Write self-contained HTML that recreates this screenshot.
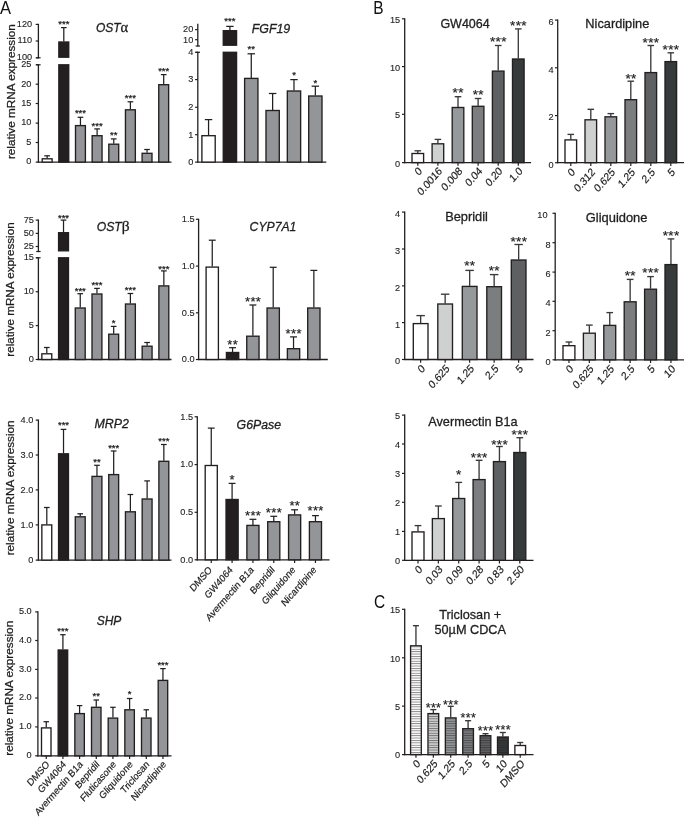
<!DOCTYPE html>
<html><head><meta charset="utf-8"><title>Figure</title>
<style>
html,body{margin:0;padding:0;background:#fff;}
svg{display:block;font-family:"Liberation Sans",sans-serif;}
text{stroke:#1f1f1f;stroke-width:0.25px;}
.tk{stroke-width:0.12px;} .pl{stroke-width:0;} .ti{stroke-width:0.3px;}
</style></head>
<body>
<svg width="685" height="817" viewBox="0 0 685 817">
<defs>
<pattern id="hs" width="4" height="2.4" patternUnits="userSpaceOnUse"><rect x="0" y="0.9" width="4" height="0.8" fill="#231f20" fill-opacity="0.62"/></pattern>
</defs>
<rect width="685" height="817" fill="#fff"/>
<text transform="translate(0.0,13.6) scale(0.92,1)" font-size="18" fill="#111" class="pl">A</text>
<text transform="translate(373.2,13.8) scale(0.86,1)" font-size="18" fill="#111" class="pl">B</text>
<text transform="translate(374.0,608.2) scale(0.86,1)" font-size="18" fill="#111" class="pl">C</text>
<line x1="38.40" y1="23.80" x2="38.40" y2="58.40" stroke="#231f20" stroke-width="1.3"/>
<line x1="35.70" y1="24.40" x2="38.40" y2="24.40" stroke="#231f20" stroke-width="1.2"/>
<text x="32.20" y="26.70" font-size="9.2" text-anchor="end" fill="#262626"  class="tk">120</text>
<line x1="35.70" y1="41.00" x2="38.40" y2="41.00" stroke="#231f20" stroke-width="1.2"/>
<text x="32.20" y="43.30" font-size="9.2" text-anchor="end" fill="#262626"  class="tk">110</text>
<line x1="35.70" y1="57.80" x2="38.40" y2="57.80" stroke="#231f20" stroke-width="1.2"/>
<text x="32.20" y="60.10" font-size="9.2" text-anchor="end" fill="#262626"  class="tk">100</text>
<line x1="36.20" y1="57.80" x2="40.60" y2="57.80" stroke="#231f20" stroke-width="1.2"/>
<line x1="38.40" y1="64.20" x2="38.40" y2="162.70" stroke="#231f20" stroke-width="1.3"/>
<line x1="35.70" y1="64.80" x2="38.40" y2="64.80" stroke="#231f20" stroke-width="1.2"/>
<text x="31.40" y="67.10" font-size="9.2" text-anchor="end" fill="#262626"  class="tk">25</text>
<line x1="35.70" y1="84.20" x2="38.40" y2="84.20" stroke="#231f20" stroke-width="1.2"/>
<text x="31.40" y="86.50" font-size="9.2" text-anchor="end" fill="#262626"  class="tk">20</text>
<line x1="35.70" y1="103.50" x2="38.40" y2="103.50" stroke="#231f20" stroke-width="1.2"/>
<text x="31.40" y="105.80" font-size="9.2" text-anchor="end" fill="#262626"  class="tk">15</text>
<line x1="35.70" y1="123.10" x2="38.40" y2="123.10" stroke="#231f20" stroke-width="1.2"/>
<text x="31.40" y="125.40" font-size="9.2" text-anchor="end" fill="#262626"  class="tk">10</text>
<line x1="35.70" y1="142.50" x2="38.40" y2="142.50" stroke="#231f20" stroke-width="1.2"/>
<text x="31.40" y="144.80" font-size="9.2" text-anchor="end" fill="#262626"  class="tk">5</text>
<line x1="35.70" y1="162.10" x2="38.40" y2="162.10" stroke="#231f20" stroke-width="1.2"/>
<text x="31.40" y="164.40" font-size="9.2" text-anchor="end" fill="#262626"  class="tk">0</text>
<line x1="36.20" y1="64.80" x2="40.60" y2="64.80" stroke="#231f20" stroke-width="1.2"/>
<line x1="37.80" y1="162.10" x2="171.50" y2="162.10" stroke="#231f20" stroke-width="1.3"/>
<line x1="47.15" y1="155.80" x2="47.15" y2="158.30" stroke="#231f20" stroke-width="1.25"/>
<line x1="44.32" y1="155.80" x2="49.98" y2="155.80" stroke="#231f20" stroke-width="1.25"/>
<rect x="42.20" y="158.80" width="9.90" height="3.30" fill="#fff" stroke="#231f20" stroke-width="1.35"/>
<line x1="63.80" y1="27.60" x2="63.80" y2="41.50" stroke="#231f20" stroke-width="1.25"/>
<line x1="60.97" y1="27.60" x2="66.63" y2="27.60" stroke="#231f20" stroke-width="1.25"/>
<rect x="58.85" y="42.00" width="9.90" height="15.20" fill="#231f20" stroke="#231f20" stroke-width="1.35"/>
<rect x="58.85" y="64.80" width="9.90" height="97.30" fill="#231f20" stroke="#231f20" stroke-width="1.35"/>
<text x="63.80" y="26.50" font-size="9.5" text-anchor="middle" fill="#1c1c1c"  style="stroke-width:0.25px">***</text>
<line x1="80.45" y1="117.30" x2="80.45" y2="125.10" stroke="#231f20" stroke-width="1.25"/>
<line x1="77.62" y1="117.30" x2="83.28" y2="117.30" stroke="#231f20" stroke-width="1.25"/>
<rect x="75.50" y="125.60" width="9.90" height="36.50" fill="#939598" stroke="#231f20" stroke-width="1.35"/>
<text x="80.45" y="116.14" font-size="9.5" text-anchor="middle" fill="#1c1c1c"  style="stroke-width:0.25px">***</text>
<line x1="97.10" y1="128.90" x2="97.10" y2="135.20" stroke="#231f20" stroke-width="1.25"/>
<line x1="94.27" y1="128.90" x2="99.93" y2="128.90" stroke="#231f20" stroke-width="1.25"/>
<rect x="92.15" y="135.70" width="9.90" height="26.40" fill="#939598" stroke="#231f20" stroke-width="1.35"/>
<text x="97.10" y="128.70" font-size="9.5" text-anchor="middle" fill="#1c1c1c"  style="stroke-width:0.25px">***</text>
<line x1="113.75" y1="138.90" x2="113.75" y2="143.70" stroke="#231f20" stroke-width="1.25"/>
<line x1="110.92" y1="138.90" x2="116.58" y2="138.90" stroke="#231f20" stroke-width="1.25"/>
<rect x="108.80" y="144.20" width="9.90" height="17.90" fill="#939598" stroke="#231f20" stroke-width="1.35"/>
<text x="113.75" y="137.74" font-size="9.5" text-anchor="middle" fill="#1c1c1c"  style="stroke-width:0.25px">**</text>
<line x1="130.40" y1="101.80" x2="130.40" y2="109.30" stroke="#231f20" stroke-width="1.25"/>
<line x1="127.57" y1="101.80" x2="133.23" y2="101.80" stroke="#231f20" stroke-width="1.25"/>
<rect x="125.45" y="109.80" width="9.90" height="52.30" fill="#939598" stroke="#231f20" stroke-width="1.35"/>
<text x="130.40" y="101.33" font-size="9.5" text-anchor="middle" fill="#1c1c1c"  style="stroke-width:0.25px">***</text>
<line x1="147.05" y1="149.50" x2="147.05" y2="152.80" stroke="#231f20" stroke-width="1.25"/>
<line x1="144.22" y1="149.50" x2="149.88" y2="149.50" stroke="#231f20" stroke-width="1.25"/>
<rect x="142.10" y="153.30" width="9.90" height="8.80" fill="#939598" stroke="#231f20" stroke-width="1.35"/>
<line x1="163.70" y1="74.60" x2="163.70" y2="84.20" stroke="#231f20" stroke-width="1.25"/>
<line x1="160.87" y1="74.60" x2="166.53" y2="74.60" stroke="#231f20" stroke-width="1.25"/>
<rect x="158.75" y="84.70" width="9.90" height="77.40" fill="#939598" stroke="#231f20" stroke-width="1.35"/>
<text x="163.70" y="74.21" font-size="9.5" text-anchor="middle" fill="#1c1c1c"  style="stroke-width:0.25px">***</text>
<text x="95.90" y="31.50" font-size="12" text-anchor="start" fill="#1f1f1f" font-style="italic" class="ti">OST<tspan font-style="normal" font-family="Liberation Serif, DejaVu Serif, serif" font-size="14.5">α</tspan></text>
<text transform="translate(14.70,91.60) rotate(-90) scale(1.14,1)" font-size="10.3" text-anchor="middle" fill="#1a1a1a">relative mRNA expression</text>
<line x1="197.80" y1="23.80" x2="197.80" y2="46.60" stroke="#231f20" stroke-width="1.3"/>
<line x1="195.10" y1="29.60" x2="197.80" y2="29.60" stroke="#231f20" stroke-width="1.2"/>
<text x="193.30" y="32.40" font-size="9.2" text-anchor="end" fill="#262626"  class="tk">20</text>
<line x1="195.10" y1="39.70" x2="197.80" y2="39.70" stroke="#231f20" stroke-width="1.2"/>
<text x="193.30" y="42.50" font-size="9.2" text-anchor="end" fill="#262626"  class="tk">10</text>
<line x1="195.60" y1="46.00" x2="200.00" y2="46.00" stroke="#231f20" stroke-width="1.2"/>
<line x1="197.80" y1="51.70" x2="197.80" y2="162.70" stroke="#231f20" stroke-width="1.3"/>
<line x1="195.10" y1="52.30" x2="197.80" y2="52.30" stroke="#231f20" stroke-width="1.2"/>
<text x="193.30" y="55.10" font-size="9.2" text-anchor="end" fill="#262626"  class="tk">4</text>
<line x1="195.10" y1="79.60" x2="197.80" y2="79.60" stroke="#231f20" stroke-width="1.2"/>
<text x="193.30" y="82.40" font-size="9.2" text-anchor="end" fill="#262626"  class="tk">3</text>
<line x1="195.10" y1="107.30" x2="197.80" y2="107.30" stroke="#231f20" stroke-width="1.2"/>
<text x="193.30" y="110.10" font-size="9.2" text-anchor="end" fill="#262626"  class="tk">2</text>
<line x1="195.10" y1="134.70" x2="197.80" y2="134.70" stroke="#231f20" stroke-width="1.2"/>
<text x="193.30" y="137.50" font-size="9.2" text-anchor="end" fill="#262626"  class="tk">1</text>
<line x1="195.10" y1="162.10" x2="197.80" y2="162.10" stroke="#231f20" stroke-width="1.2"/>
<text x="193.30" y="164.90" font-size="9.2" text-anchor="end" fill="#262626"  class="tk">0</text>
<line x1="195.60" y1="52.30" x2="200.00" y2="52.30" stroke="#231f20" stroke-width="1.2"/>
<line x1="197.20" y1="162.10" x2="326.30" y2="162.10" stroke="#231f20" stroke-width="1.3"/>
<line x1="208.55" y1="119.60" x2="208.55" y2="135.20" stroke="#231f20" stroke-width="1.25"/>
<line x1="204.83" y1="119.60" x2="212.27" y2="119.60" stroke="#231f20" stroke-width="1.25"/>
<rect x="201.90" y="135.70" width="13.30" height="26.40" fill="#fff" stroke="#231f20" stroke-width="1.35"/>
<line x1="229.91" y1="26.40" x2="229.91" y2="30.20" stroke="#231f20" stroke-width="1.25"/>
<line x1="226.19" y1="26.40" x2="233.63" y2="26.40" stroke="#231f20" stroke-width="1.25"/>
<rect x="223.26" y="30.70" width="13.30" height="14.50" fill="#231f20" stroke="#231f20" stroke-width="1.35"/>
<rect x="223.26" y="52.30" width="13.30" height="109.80" fill="#231f20" stroke="#231f20" stroke-width="1.35"/>
<text x="229.91" y="23.99" font-size="9.5" text-anchor="middle" fill="#1c1c1c"  style="stroke-width:0.25px">***</text>
<line x1="251.27" y1="53.80" x2="251.27" y2="77.90" stroke="#231f20" stroke-width="1.25"/>
<line x1="247.55" y1="53.80" x2="254.99" y2="53.80" stroke="#231f20" stroke-width="1.25"/>
<rect x="244.62" y="78.40" width="13.30" height="83.70" fill="#939598" stroke="#231f20" stroke-width="1.35"/>
<text x="251.27" y="52.11" font-size="9.5" text-anchor="middle" fill="#1c1c1c"  style="stroke-width:0.25px">**</text>
<line x1="272.63" y1="93.50" x2="272.63" y2="110.00" stroke="#231f20" stroke-width="1.25"/>
<line x1="268.91" y1="93.50" x2="276.35" y2="93.50" stroke="#231f20" stroke-width="1.25"/>
<rect x="265.98" y="110.50" width="13.30" height="51.60" fill="#939598" stroke="#231f20" stroke-width="1.35"/>
<line x1="293.99" y1="79.60" x2="293.99" y2="90.50" stroke="#231f20" stroke-width="1.25"/>
<line x1="290.27" y1="79.60" x2="297.71" y2="79.60" stroke="#231f20" stroke-width="1.25"/>
<rect x="287.34" y="91.00" width="13.30" height="71.10" fill="#939598" stroke="#231f20" stroke-width="1.35"/>
<text x="293.99" y="78.48" font-size="9.5" text-anchor="middle" fill="#1c1c1c"  style="stroke-width:0.25px">*</text>
<line x1="315.35" y1="86.20" x2="315.35" y2="95.50" stroke="#231f20" stroke-width="1.25"/>
<line x1="311.63" y1="86.20" x2="319.07" y2="86.20" stroke="#231f20" stroke-width="1.25"/>
<rect x="308.70" y="96.00" width="13.30" height="66.10" fill="#939598" stroke="#231f20" stroke-width="1.35"/>
<text x="315.35" y="85.51" font-size="9.5" text-anchor="middle" fill="#1c1c1c"  style="stroke-width:0.25px">*</text>
<text x="251.70" y="33.20" font-size="12.4" text-anchor="start" fill="#1f1f1f" font-style="italic" class="ti">FGF19</text>
<line x1="38.40" y1="219.50" x2="38.40" y2="252.10" stroke="#231f20" stroke-width="1.3"/>
<line x1="35.70" y1="220.10" x2="38.40" y2="220.10" stroke="#231f20" stroke-width="1.2"/>
<text x="33.90" y="222.60" font-size="9.2" text-anchor="end" fill="#262626"  class="tk">75</text>
<line x1="35.70" y1="233.40" x2="38.40" y2="233.40" stroke="#231f20" stroke-width="1.2"/>
<text x="33.90" y="235.90" font-size="9.2" text-anchor="end" fill="#262626"  class="tk">50</text>
<line x1="35.70" y1="246.50" x2="38.40" y2="246.50" stroke="#231f20" stroke-width="1.2"/>
<text x="33.90" y="249.00" font-size="9.2" text-anchor="end" fill="#262626"  class="tk">25</text>
<line x1="36.20" y1="251.50" x2="40.60" y2="251.50" stroke="#231f20" stroke-width="1.2"/>
<line x1="38.40" y1="257.20" x2="38.40" y2="360.10" stroke="#231f20" stroke-width="1.3"/>
<line x1="35.70" y1="257.80" x2="38.40" y2="257.80" stroke="#231f20" stroke-width="1.2"/>
<text x="33.90" y="260.30" font-size="9.2" text-anchor="end" fill="#262626"  class="tk">15</text>
<line x1="35.70" y1="291.70" x2="38.40" y2="291.70" stroke="#231f20" stroke-width="1.2"/>
<text x="33.90" y="294.20" font-size="9.2" text-anchor="end" fill="#262626"  class="tk">10</text>
<line x1="35.70" y1="325.60" x2="38.40" y2="325.60" stroke="#231f20" stroke-width="1.2"/>
<text x="33.90" y="328.10" font-size="9.2" text-anchor="end" fill="#262626"  class="tk">5</text>
<line x1="35.70" y1="359.50" x2="38.40" y2="359.50" stroke="#231f20" stroke-width="1.2"/>
<text x="33.90" y="362.00" font-size="9.2" text-anchor="end" fill="#262626"  class="tk">0</text>
<line x1="36.20" y1="257.80" x2="40.60" y2="257.80" stroke="#231f20" stroke-width="1.2"/>
<line x1="37.80" y1="359.50" x2="171.50" y2="359.50" stroke="#231f20" stroke-width="1.3"/>
<line x1="46.80" y1="347.50" x2="46.80" y2="353.30" stroke="#231f20" stroke-width="1.25"/>
<line x1="43.97" y1="347.50" x2="49.63" y2="347.50" stroke="#231f20" stroke-width="1.25"/>
<rect x="41.85" y="353.80" width="9.90" height="5.70" fill="#fff" stroke="#231f20" stroke-width="1.35"/>
<line x1="63.52" y1="220.10" x2="63.52" y2="232.20" stroke="#231f20" stroke-width="1.25"/>
<line x1="60.69" y1="220.10" x2="66.35" y2="220.10" stroke="#231f20" stroke-width="1.25"/>
<rect x="58.57" y="232.70" width="9.90" height="18.10" fill="#231f20" stroke="#231f20" stroke-width="1.35"/>
<rect x="58.57" y="257.80" width="9.90" height="101.70" fill="#231f20" stroke="#231f20" stroke-width="1.35"/>
<text x="63.52" y="220.97" font-size="9.5" text-anchor="middle" fill="#1c1c1c"  style="stroke-width:0.25px">***</text>
<line x1="80.24" y1="293.70" x2="80.24" y2="307.50" stroke="#231f20" stroke-width="1.25"/>
<line x1="77.41" y1="293.70" x2="83.07" y2="293.70" stroke="#231f20" stroke-width="1.25"/>
<rect x="75.29" y="308.00" width="9.90" height="51.50" fill="#939598" stroke="#231f20" stroke-width="1.35"/>
<text x="80.24" y="293.79" font-size="9.5" text-anchor="middle" fill="#1c1c1c"  style="stroke-width:0.25px">***</text>
<line x1="96.96" y1="288.40" x2="96.96" y2="293.50" stroke="#231f20" stroke-width="1.25"/>
<line x1="94.13" y1="288.40" x2="99.79" y2="288.40" stroke="#231f20" stroke-width="1.25"/>
<rect x="92.01" y="294.00" width="9.90" height="65.50" fill="#939598" stroke="#231f20" stroke-width="1.35"/>
<text x="96.96" y="288.27" font-size="9.5" text-anchor="middle" fill="#1c1c1c"  style="stroke-width:0.25px">***</text>
<line x1="113.68" y1="326.40" x2="113.68" y2="333.70" stroke="#231f20" stroke-width="1.25"/>
<line x1="110.85" y1="326.40" x2="116.51" y2="326.40" stroke="#231f20" stroke-width="1.25"/>
<rect x="108.73" y="334.20" width="9.90" height="25.30" fill="#939598" stroke="#231f20" stroke-width="1.35"/>
<text x="113.68" y="326.44" font-size="9.5" text-anchor="middle" fill="#1c1c1c"  style="stroke-width:0.25px">*</text>
<line x1="130.40" y1="293.50" x2="130.40" y2="303.50" stroke="#231f20" stroke-width="1.25"/>
<line x1="127.57" y1="293.50" x2="133.23" y2="293.50" stroke="#231f20" stroke-width="1.25"/>
<rect x="125.45" y="304.00" width="9.90" height="55.50" fill="#939598" stroke="#231f20" stroke-width="1.35"/>
<text x="130.40" y="293.29" font-size="9.5" text-anchor="middle" fill="#1c1c1c"  style="stroke-width:0.25px">***</text>
<line x1="147.12" y1="342.50" x2="147.12" y2="345.70" stroke="#231f20" stroke-width="1.25"/>
<line x1="144.29" y1="342.50" x2="149.95" y2="342.50" stroke="#231f20" stroke-width="1.25"/>
<rect x="142.17" y="346.20" width="9.90" height="13.30" fill="#939598" stroke="#231f20" stroke-width="1.35"/>
<line x1="163.84" y1="270.90" x2="163.84" y2="285.40" stroke="#231f20" stroke-width="1.25"/>
<line x1="161.01" y1="270.90" x2="166.67" y2="270.90" stroke="#231f20" stroke-width="1.25"/>
<rect x="158.89" y="285.90" width="9.90" height="73.60" fill="#939598" stroke="#231f20" stroke-width="1.35"/>
<text x="163.84" y="271.70" font-size="9.5" text-anchor="middle" fill="#1c1c1c"  style="stroke-width:0.25px">***</text>
<text x="96.70" y="230.70" font-size="12.2" text-anchor="start" fill="#1f1f1f" font-style="italic" class="ti">OST<tspan font-style="normal" font-family="Liberation Serif, DejaVu Serif, serif" font-size="15.5">β</tspan></text>
<text transform="translate(14.00,289.50) rotate(-90) scale(1.135,1)" font-size="10.3" text-anchor="middle" fill="#1a1a1a">relative mRNA expression</text>
<line x1="198.60" y1="218.70" x2="198.60" y2="360.10" stroke="#231f20" stroke-width="1.3"/>
<line x1="195.90" y1="219.30" x2="198.60" y2="219.30" stroke="#231f20" stroke-width="1.2"/>
<text x="194.60" y="222.00" font-size="9.2" text-anchor="end" fill="#262626"  class="tk">1.5</text>
<line x1="195.90" y1="266.10" x2="198.60" y2="266.10" stroke="#231f20" stroke-width="1.2"/>
<text x="194.60" y="268.80" font-size="9.2" text-anchor="end" fill="#262626"  class="tk">1.0</text>
<line x1="195.90" y1="312.80" x2="198.60" y2="312.80" stroke="#231f20" stroke-width="1.2"/>
<text x="194.60" y="315.50" font-size="9.2" text-anchor="end" fill="#262626"  class="tk">0.5</text>
<line x1="195.90" y1="359.50" x2="198.60" y2="359.50" stroke="#231f20" stroke-width="1.2"/>
<text x="194.60" y="362.20" font-size="9.2" text-anchor="end" fill="#262626"  class="tk">0.0</text>
<line x1="198.00" y1="359.50" x2="327.80" y2="359.50" stroke="#231f20" stroke-width="1.3"/>
<line x1="212.25" y1="240.20" x2="212.25" y2="266.60" stroke="#231f20" stroke-width="1.25"/>
<line x1="208.79" y1="240.20" x2="215.71" y2="240.20" stroke="#231f20" stroke-width="1.25"/>
<rect x="206.10" y="267.10" width="12.30" height="92.40" fill="#fff" stroke="#231f20" stroke-width="1.35"/>
<line x1="232.57" y1="347.70" x2="232.57" y2="352.00" stroke="#231f20" stroke-width="1.25"/>
<line x1="229.11" y1="347.70" x2="236.03" y2="347.70" stroke="#231f20" stroke-width="1.25"/>
<rect x="226.42" y="352.50" width="12.30" height="7.00" fill="#231f20" stroke="#231f20" stroke-width="1.35"/>
<text x="232.77" y="348.89" font-size="13.0" text-anchor="middle" fill="#222"  style="stroke-width:0.18px" letter-spacing="0.35">**</text>
<line x1="252.89" y1="305.00" x2="252.89" y2="335.70" stroke="#231f20" stroke-width="1.25"/>
<line x1="249.43" y1="305.00" x2="256.35" y2="305.00" stroke="#231f20" stroke-width="1.25"/>
<rect x="246.74" y="336.20" width="12.30" height="23.30" fill="#939598" stroke="#231f20" stroke-width="1.35"/>
<text x="253.09" y="306.20" font-size="13.0" text-anchor="middle" fill="#222"  style="stroke-width:0.18px" letter-spacing="0.35">***</text>
<line x1="273.21" y1="267.30" x2="273.21" y2="307.50" stroke="#231f20" stroke-width="1.25"/>
<line x1="269.75" y1="267.30" x2="276.67" y2="267.30" stroke="#231f20" stroke-width="1.25"/>
<rect x="267.06" y="308.00" width="12.30" height="51.50" fill="#939598" stroke="#231f20" stroke-width="1.35"/>
<line x1="293.53" y1="336.90" x2="293.53" y2="348.20" stroke="#231f20" stroke-width="1.25"/>
<line x1="290.07" y1="336.90" x2="296.99" y2="336.90" stroke="#231f20" stroke-width="1.25"/>
<rect x="287.38" y="348.70" width="12.30" height="10.80" fill="#939598" stroke="#231f20" stroke-width="1.35"/>
<text x="293.73" y="338.34" font-size="13.0" text-anchor="middle" fill="#222"  style="stroke-width:0.18px" letter-spacing="0.35">***</text>
<line x1="313.85" y1="270.40" x2="313.85" y2="307.50" stroke="#231f20" stroke-width="1.25"/>
<line x1="310.39" y1="270.40" x2="317.31" y2="270.40" stroke="#231f20" stroke-width="1.25"/>
<rect x="307.70" y="308.00" width="12.30" height="51.50" fill="#939598" stroke="#231f20" stroke-width="1.35"/>
<text x="249.60" y="230.70" font-size="12.2" text-anchor="start" fill="#1f1f1f" font-style="italic" class="ti">CYP7A1</text>
<line x1="38.40" y1="419.50" x2="38.40" y2="560.70" stroke="#231f20" stroke-width="1.3"/>
<line x1="35.70" y1="420.10" x2="38.40" y2="420.10" stroke="#231f20" stroke-width="1.2"/>
<text x="33.40" y="423.10" font-size="9.2" text-anchor="end" fill="#262626"  class="tk">4.0</text>
<line x1="35.70" y1="455.00" x2="38.40" y2="455.00" stroke="#231f20" stroke-width="1.2"/>
<text x="33.40" y="458.00" font-size="9.2" text-anchor="end" fill="#262626"  class="tk">3.0</text>
<line x1="35.70" y1="489.90" x2="38.40" y2="489.90" stroke="#231f20" stroke-width="1.2"/>
<text x="33.40" y="492.90" font-size="9.2" text-anchor="end" fill="#262626"  class="tk">2.0</text>
<line x1="35.70" y1="524.90" x2="38.40" y2="524.90" stroke="#231f20" stroke-width="1.2"/>
<text x="33.40" y="527.90" font-size="9.2" text-anchor="end" fill="#262626"  class="tk">1.0</text>
<line x1="35.70" y1="560.10" x2="38.40" y2="560.10" stroke="#231f20" stroke-width="1.2"/>
<text x="33.40" y="563.10" font-size="9.2" text-anchor="end" fill="#262626"  class="tk">0</text>
<line x1="37.80" y1="560.10" x2="171.50" y2="560.10" stroke="#231f20" stroke-width="1.3"/>
<line x1="46.80" y1="507.50" x2="46.80" y2="524.40" stroke="#231f20" stroke-width="1.25"/>
<line x1="43.97" y1="507.50" x2="49.63" y2="507.50" stroke="#231f20" stroke-width="1.25"/>
<rect x="41.85" y="524.90" width="9.90" height="35.20" fill="#fff" stroke="#231f20" stroke-width="1.35"/>
<line x1="63.52" y1="429.40" x2="63.52" y2="453.30" stroke="#231f20" stroke-width="1.25"/>
<line x1="60.69" y1="429.40" x2="66.35" y2="429.40" stroke="#231f20" stroke-width="1.25"/>
<rect x="58.57" y="453.80" width="9.90" height="106.30" fill="#231f20" stroke="#231f20" stroke-width="1.35"/>
<text x="63.52" y="428.26" font-size="9.5" text-anchor="middle" fill="#1c1c1c"  style="stroke-width:0.25px">***</text>
<line x1="80.24" y1="513.80" x2="80.24" y2="516.30" stroke="#231f20" stroke-width="1.25"/>
<line x1="77.41" y1="513.80" x2="83.07" y2="513.80" stroke="#231f20" stroke-width="1.25"/>
<rect x="75.29" y="516.80" width="9.90" height="43.30" fill="#939598" stroke="#231f20" stroke-width="1.35"/>
<line x1="96.96" y1="465.30" x2="96.96" y2="475.90" stroke="#231f20" stroke-width="1.25"/>
<line x1="94.13" y1="465.30" x2="99.79" y2="465.30" stroke="#231f20" stroke-width="1.25"/>
<rect x="92.01" y="476.40" width="9.90" height="83.70" fill="#939598" stroke="#231f20" stroke-width="1.35"/>
<text x="96.96" y="464.67" font-size="9.5" text-anchor="middle" fill="#1c1c1c"  style="stroke-width:0.25px">**</text>
<line x1="113.68" y1="451.00" x2="113.68" y2="474.10" stroke="#231f20" stroke-width="1.25"/>
<line x1="110.85" y1="451.00" x2="116.51" y2="451.00" stroke="#231f20" stroke-width="1.25"/>
<rect x="108.73" y="474.60" width="9.90" height="85.50" fill="#939598" stroke="#231f20" stroke-width="1.35"/>
<text x="113.68" y="450.86" font-size="9.5" text-anchor="middle" fill="#1c1c1c"  style="stroke-width:0.25px">***</text>
<line x1="130.40" y1="494.50" x2="130.40" y2="511.30" stroke="#231f20" stroke-width="1.25"/>
<line x1="127.57" y1="494.50" x2="133.23" y2="494.50" stroke="#231f20" stroke-width="1.25"/>
<rect x="125.45" y="511.80" width="9.90" height="48.30" fill="#939598" stroke="#231f20" stroke-width="1.35"/>
<line x1="147.12" y1="480.90" x2="147.12" y2="498.50" stroke="#231f20" stroke-width="1.25"/>
<line x1="144.29" y1="480.90" x2="149.95" y2="480.90" stroke="#231f20" stroke-width="1.25"/>
<rect x="142.17" y="499.00" width="9.90" height="61.10" fill="#939598" stroke="#231f20" stroke-width="1.35"/>
<line x1="163.84" y1="444.50" x2="163.84" y2="460.80" stroke="#231f20" stroke-width="1.25"/>
<line x1="161.01" y1="444.50" x2="166.67" y2="444.50" stroke="#231f20" stroke-width="1.25"/>
<rect x="158.89" y="461.30" width="9.90" height="98.80" fill="#939598" stroke="#231f20" stroke-width="1.35"/>
<text x="163.84" y="444.08" font-size="9.5" text-anchor="middle" fill="#1c1c1c"  style="stroke-width:0.25px">***</text>
<text x="94.50" y="428.40" font-size="12.4" text-anchor="start" fill="#1f1f1f" font-style="italic" class="ti">MRP2</text>
<text transform="translate(14.40,487.90) rotate(-90) scale(1.14,1)" font-size="10.3" text-anchor="middle" fill="#1a1a1a">relative mRNA expression</text>
<line x1="197.30" y1="416.20" x2="197.30" y2="560.40" stroke="#231f20" stroke-width="1.3"/>
<line x1="194.60" y1="416.80" x2="197.30" y2="416.80" stroke="#231f20" stroke-width="1.2"/>
<text x="193.10" y="419.50" font-size="9.2" text-anchor="end" fill="#262626"  class="tk">1.5</text>
<line x1="194.60" y1="464.60" x2="197.30" y2="464.60" stroke="#231f20" stroke-width="1.2"/>
<text x="193.10" y="467.30" font-size="9.2" text-anchor="end" fill="#262626"  class="tk">1.0</text>
<line x1="194.60" y1="512.30" x2="197.30" y2="512.30" stroke="#231f20" stroke-width="1.2"/>
<text x="193.10" y="515.00" font-size="9.2" text-anchor="end" fill="#262626"  class="tk">0.5</text>
<line x1="194.60" y1="559.80" x2="197.30" y2="559.80" stroke="#231f20" stroke-width="1.2"/>
<text x="193.10" y="562.50" font-size="9.2" text-anchor="end" fill="#262626"  class="tk">0.0</text>
<line x1="196.70" y1="559.80" x2="329.50" y2="559.80" stroke="#231f20" stroke-width="1.3"/>
<line x1="211.25" y1="428.10" x2="211.25" y2="465.00" stroke="#231f20" stroke-width="1.25"/>
<line x1="207.84" y1="428.10" x2="214.66" y2="428.10" stroke="#231f20" stroke-width="1.25"/>
<rect x="205.20" y="465.50" width="12.10" height="94.30" fill="#fff" stroke="#231f20" stroke-width="1.35"/>
<line x1="211.25" y1="559.80" x2="211.25" y2="563.00" stroke="#231f20" stroke-width="1.2"/>
<text transform="translate(212.55,570.50) scale(0.9,1.03) rotate(-45)" font-size="10" text-anchor="end" fill="#1a1a1a" style="stroke-width:0.2px">DMSO</text>
<line x1="232.09" y1="483.40" x2="232.09" y2="499.00" stroke="#231f20" stroke-width="1.25"/>
<line x1="228.68" y1="483.40" x2="235.50" y2="483.40" stroke="#231f20" stroke-width="1.25"/>
<rect x="226.04" y="499.50" width="12.10" height="60.30" fill="#231f20" stroke="#231f20" stroke-width="1.35"/>
<text x="232.29" y="483.61" font-size="13.0" text-anchor="middle" fill="#222"  style="stroke-width:0.18px" letter-spacing="0.35">*</text>
<line x1="232.09" y1="559.80" x2="232.09" y2="563.00" stroke="#231f20" stroke-width="1.2"/>
<text transform="translate(233.39,570.50) scale(0.9,1.03) rotate(-45)" font-size="10" text-anchor="end" fill="#1a1a1a" style="stroke-width:0.2px">GW4064</text>
<line x1="252.93" y1="519.30" x2="252.93" y2="524.90" stroke="#231f20" stroke-width="1.25"/>
<line x1="249.52" y1="519.30" x2="256.34" y2="519.30" stroke="#231f20" stroke-width="1.25"/>
<rect x="246.88" y="525.40" width="12.10" height="34.40" fill="#939598" stroke="#231f20" stroke-width="1.35"/>
<text x="253.13" y="520.01" font-size="13.0" text-anchor="middle" fill="#222"  style="stroke-width:0.18px" letter-spacing="0.35">***</text>
<line x1="252.93" y1="559.80" x2="252.93" y2="563.00" stroke="#231f20" stroke-width="1.2"/>
<text transform="translate(254.23,570.50) scale(0.9,1.03) rotate(-45)" font-size="10" text-anchor="end" fill="#1a1a1a" style="stroke-width:0.2px">Avermectin B1a</text>
<line x1="273.77" y1="516.30" x2="273.77" y2="521.20" stroke="#231f20" stroke-width="1.25"/>
<line x1="270.36" y1="516.30" x2="277.18" y2="516.30" stroke="#231f20" stroke-width="1.25"/>
<rect x="267.72" y="521.70" width="12.10" height="38.10" fill="#939598" stroke="#231f20" stroke-width="1.35"/>
<text x="273.97" y="516.75" font-size="13.0" text-anchor="middle" fill="#222"  style="stroke-width:0.18px" letter-spacing="0.35">***</text>
<line x1="273.77" y1="559.80" x2="273.77" y2="563.00" stroke="#231f20" stroke-width="1.2"/>
<text transform="translate(275.07,570.50) scale(0.9,1.03) rotate(-45)" font-size="10" text-anchor="end" fill="#1a1a1a" style="stroke-width:0.2px">Bepridil</text>
<line x1="294.61" y1="509.80" x2="294.61" y2="514.40" stroke="#231f20" stroke-width="1.25"/>
<line x1="291.20" y1="509.80" x2="298.02" y2="509.80" stroke="#231f20" stroke-width="1.25"/>
<rect x="288.56" y="514.90" width="12.10" height="44.90" fill="#939598" stroke="#231f20" stroke-width="1.35"/>
<text x="294.81" y="510.47" font-size="13.0" text-anchor="middle" fill="#222"  style="stroke-width:0.18px" letter-spacing="0.35">**</text>
<line x1="294.61" y1="559.80" x2="294.61" y2="563.00" stroke="#231f20" stroke-width="1.2"/>
<text transform="translate(295.91,570.50) scale(0.9,1.03) rotate(-45)" font-size="10" text-anchor="end" fill="#1a1a1a" style="stroke-width:0.2px">Gliquidone</text>
<line x1="315.45" y1="515.60" x2="315.45" y2="521.20" stroke="#231f20" stroke-width="1.25"/>
<line x1="312.04" y1="515.60" x2="318.86" y2="515.60" stroke="#231f20" stroke-width="1.25"/>
<rect x="309.40" y="521.70" width="12.10" height="38.10" fill="#939598" stroke="#231f20" stroke-width="1.35"/>
<text x="315.65" y="514.99" font-size="13.0" text-anchor="middle" fill="#222"  style="stroke-width:0.18px" letter-spacing="0.35">***</text>
<line x1="315.45" y1="559.80" x2="315.45" y2="563.00" stroke="#231f20" stroke-width="1.2"/>
<text transform="translate(316.75,570.50) scale(0.9,1.03) rotate(-45)" font-size="10" text-anchor="end" fill="#1a1a1a" style="stroke-width:0.2px">Nicardipine</text>
<text x="236.60" y="429.30" font-size="12.3" text-anchor="start" fill="#1f1f1f" font-style="italic" class="ti">G6Pase</text>
<line x1="37.90" y1="611.30" x2="37.90" y2="756.40" stroke="#231f20" stroke-width="1.3"/>
<line x1="35.20" y1="611.90" x2="37.90" y2="611.90" stroke="#231f20" stroke-width="1.2"/>
<text x="31.70" y="614.30" font-size="9.2" text-anchor="end" fill="#262626"  class="tk">5.0</text>
<line x1="35.20" y1="640.50" x2="37.90" y2="640.50" stroke="#231f20" stroke-width="1.2"/>
<text x="31.70" y="642.90" font-size="9.2" text-anchor="end" fill="#262626"  class="tk">4.0</text>
<line x1="35.20" y1="669.40" x2="37.90" y2="669.40" stroke="#231f20" stroke-width="1.2"/>
<text x="31.70" y="671.80" font-size="9.2" text-anchor="end" fill="#262626"  class="tk">3.0</text>
<line x1="35.20" y1="698.00" x2="37.90" y2="698.00" stroke="#231f20" stroke-width="1.2"/>
<text x="31.70" y="700.40" font-size="9.2" text-anchor="end" fill="#262626"  class="tk">2.0</text>
<line x1="35.20" y1="726.90" x2="37.90" y2="726.90" stroke="#231f20" stroke-width="1.2"/>
<text x="31.70" y="729.30" font-size="9.2" text-anchor="end" fill="#262626"  class="tk">1.0</text>
<line x1="35.20" y1="755.80" x2="37.90" y2="755.80" stroke="#231f20" stroke-width="1.2"/>
<text x="31.70" y="758.20" font-size="9.2" text-anchor="end" fill="#262626"  class="tk">0</text>
<line x1="37.30" y1="755.80" x2="171.50" y2="755.80" stroke="#231f20" stroke-width="1.3"/>
<line x1="46.25" y1="721.70" x2="46.25" y2="727.40" stroke="#231f20" stroke-width="1.25"/>
<line x1="43.52" y1="721.70" x2="48.98" y2="721.70" stroke="#231f20" stroke-width="1.25"/>
<rect x="41.50" y="727.90" width="9.50" height="27.90" fill="#fff" stroke="#231f20" stroke-width="1.35"/>
<line x1="46.25" y1="755.80" x2="46.25" y2="759.00" stroke="#231f20" stroke-width="1.2"/>
<text transform="translate(49.85,765.00) scale(0.9,1.03) rotate(-45)" font-size="10" text-anchor="end" fill="#1a1a1a" style="stroke-width:0.2px">DMSO</text>
<line x1="62.92" y1="634.70" x2="62.92" y2="649.50" stroke="#231f20" stroke-width="1.25"/>
<line x1="60.19" y1="634.70" x2="65.65" y2="634.70" stroke="#231f20" stroke-width="1.25"/>
<rect x="58.17" y="650.00" width="9.50" height="105.80" fill="#231f20" stroke="#231f20" stroke-width="1.35"/>
<text x="62.92" y="634.33" font-size="9.5" text-anchor="middle" fill="#1c1c1c"  style="stroke-width:0.25px">***</text>
<line x1="62.92" y1="755.80" x2="62.92" y2="759.00" stroke="#231f20" stroke-width="1.2"/>
<text transform="translate(66.52,765.00) scale(0.9,1.03) rotate(-45)" font-size="10" text-anchor="end" fill="#1a1a1a" style="stroke-width:0.2px">GW4064</text>
<line x1="79.59" y1="705.60" x2="79.59" y2="713.10" stroke="#231f20" stroke-width="1.25"/>
<line x1="76.86" y1="705.60" x2="82.32" y2="705.60" stroke="#231f20" stroke-width="1.25"/>
<rect x="74.84" y="713.60" width="9.50" height="42.20" fill="#939598" stroke="#231f20" stroke-width="1.35"/>
<line x1="79.59" y1="755.80" x2="79.59" y2="759.00" stroke="#231f20" stroke-width="1.2"/>
<text transform="translate(83.19,765.00) scale(0.9,1.03) rotate(-45)" font-size="10" text-anchor="end" fill="#1a1a1a" style="stroke-width:0.2px">Avermectin B1a</text>
<line x1="96.26" y1="700.00" x2="96.26" y2="706.80" stroke="#231f20" stroke-width="1.25"/>
<line x1="93.53" y1="700.00" x2="98.99" y2="700.00" stroke="#231f20" stroke-width="1.25"/>
<rect x="91.51" y="707.30" width="9.50" height="48.50" fill="#939598" stroke="#231f20" stroke-width="1.35"/>
<text x="96.26" y="699.36" font-size="9.5" text-anchor="middle" fill="#1c1c1c"  style="stroke-width:0.25px">**</text>
<line x1="96.26" y1="755.80" x2="96.26" y2="759.00" stroke="#231f20" stroke-width="1.2"/>
<text transform="translate(99.86,765.00) scale(0.9,1.03) rotate(-45)" font-size="10" text-anchor="end" fill="#1a1a1a" style="stroke-width:0.2px">Bepridil</text>
<line x1="112.93" y1="707.30" x2="112.93" y2="717.60" stroke="#231f20" stroke-width="1.25"/>
<line x1="110.20" y1="707.30" x2="115.66" y2="707.30" stroke="#231f20" stroke-width="1.25"/>
<rect x="108.18" y="718.10" width="9.50" height="37.70" fill="#939598" stroke="#231f20" stroke-width="1.35"/>
<line x1="112.93" y1="755.80" x2="112.93" y2="759.00" stroke="#231f20" stroke-width="1.2"/>
<text transform="translate(116.53,765.00) scale(0.9,1.03) rotate(-45)" font-size="10" text-anchor="end" fill="#1a1a1a" style="stroke-width:0.2px">Fluticasone</text>
<line x1="129.60" y1="698.50" x2="129.60" y2="709.30" stroke="#231f20" stroke-width="1.25"/>
<line x1="126.87" y1="698.50" x2="132.33" y2="698.50" stroke="#231f20" stroke-width="1.25"/>
<rect x="124.85" y="709.80" width="9.50" height="46.00" fill="#939598" stroke="#231f20" stroke-width="1.35"/>
<text x="129.60" y="697.35" font-size="9.5" text-anchor="middle" fill="#1c1c1c"  style="stroke-width:0.25px">*</text>
<line x1="129.60" y1="755.80" x2="129.60" y2="759.00" stroke="#231f20" stroke-width="1.2"/>
<text transform="translate(133.20,765.00) scale(0.9,1.03) rotate(-45)" font-size="10" text-anchor="end" fill="#1a1a1a" style="stroke-width:0.2px">Gliquidone</text>
<line x1="146.27" y1="709.80" x2="146.27" y2="717.60" stroke="#231f20" stroke-width="1.25"/>
<line x1="143.54" y1="709.80" x2="149.00" y2="709.80" stroke="#231f20" stroke-width="1.25"/>
<rect x="141.52" y="718.10" width="9.50" height="37.70" fill="#939598" stroke="#231f20" stroke-width="1.35"/>
<line x1="146.27" y1="755.80" x2="146.27" y2="759.00" stroke="#231f20" stroke-width="1.2"/>
<text transform="translate(149.87,765.00) scale(0.9,1.03) rotate(-45)" font-size="10" text-anchor="end" fill="#1a1a1a" style="stroke-width:0.2px">Triclosan</text>
<line x1="162.94" y1="668.60" x2="162.94" y2="679.90" stroke="#231f20" stroke-width="1.25"/>
<line x1="160.21" y1="668.60" x2="165.67" y2="668.60" stroke="#231f20" stroke-width="1.25"/>
<rect x="158.19" y="680.40" width="9.50" height="75.40" fill="#939598" stroke="#231f20" stroke-width="1.35"/>
<text x="162.94" y="668.23" font-size="9.5" text-anchor="middle" fill="#1c1c1c"  style="stroke-width:0.25px">***</text>
<line x1="162.94" y1="755.80" x2="162.94" y2="759.00" stroke="#231f20" stroke-width="1.2"/>
<text transform="translate(166.54,765.00) scale(0.9,1.03) rotate(-45)" font-size="10" text-anchor="end" fill="#1a1a1a" style="stroke-width:0.2px">Nicardipine</text>
<text x="96.70" y="624.70" font-size="12" text-anchor="start" fill="#1f1f1f" font-style="italic" class="ti">SHP</text>
<text transform="translate(12.70,688.30) rotate(-90) scale(1.14,1)" font-size="10.3" text-anchor="middle" fill="#1a1a1a">relative mRNA expression</text>
<line x1="404.70" y1="18.20" x2="404.70" y2="163.20" stroke="#231f20" stroke-width="1.3"/>
<line x1="402.00" y1="18.80" x2="404.70" y2="18.80" stroke="#231f20" stroke-width="1.2"/>
<text x="400.20" y="22.90" font-size="9.2" text-anchor="end" fill="#262626"  class="tk">15</text>
<line x1="402.00" y1="66.60" x2="404.70" y2="66.60" stroke="#231f20" stroke-width="1.2"/>
<text x="400.20" y="70.70" font-size="9.2" text-anchor="end" fill="#262626"  class="tk">10</text>
<line x1="402.00" y1="114.30" x2="404.70" y2="114.30" stroke="#231f20" stroke-width="1.2"/>
<text x="400.20" y="118.40" font-size="9.2" text-anchor="end" fill="#262626"  class="tk">5</text>
<line x1="402.00" y1="162.60" x2="404.70" y2="162.60" stroke="#231f20" stroke-width="1.2"/>
<text x="400.20" y="166.70" font-size="9.2" text-anchor="end" fill="#262626"  class="tk">0</text>
<line x1="404.10" y1="162.60" x2="531.10" y2="162.60" stroke="#231f20" stroke-width="1.3"/>
<line x1="417.80" y1="150.80" x2="417.80" y2="153.00" stroke="#3a3a3c" stroke-width="1.35"/>
<line x1="414.52" y1="150.80" x2="421.08" y2="150.80" stroke="#3a3a3c" stroke-width="1.35"/>
<rect x="412.00" y="153.50" width="11.60" height="9.10" fill="#ffffff" stroke="#231f20" stroke-width="1.35"/>
<line x1="417.80" y1="162.60" x2="417.80" y2="165.80" stroke="#231f20" stroke-width="1.2"/>
<text transform="translate(422.60,171.70) scale(0.9,1.03) rotate(-45)" font-size="11" text-anchor="end" fill="#1a1a1a" style="stroke-width:0.2px">0</text>
<line x1="437.90" y1="139.40" x2="437.90" y2="143.30" stroke="#3a3a3c" stroke-width="1.35"/>
<line x1="434.62" y1="139.40" x2="441.18" y2="139.40" stroke="#3a3a3c" stroke-width="1.35"/>
<rect x="432.10" y="143.80" width="11.60" height="18.80" fill="#cfd1d0" stroke="#231f20" stroke-width="1.35"/>
<line x1="437.90" y1="162.60" x2="437.90" y2="165.80" stroke="#231f20" stroke-width="1.2"/>
<text transform="translate(442.70,171.70) scale(0.9,1.03) rotate(-45)" font-size="11" text-anchor="end" fill="#1a1a1a" style="stroke-width:0.2px">0.0016</text>
<line x1="458.00" y1="96.70" x2="458.00" y2="107.00" stroke="#3a3a3c" stroke-width="1.35"/>
<line x1="454.72" y1="96.70" x2="461.28" y2="96.70" stroke="#3a3a3c" stroke-width="1.35"/>
<rect x="452.20" y="107.50" width="11.60" height="55.10" fill="#96999c" stroke="#231f20" stroke-width="1.35"/>
<text x="458.20" y="97.42" font-size="13.5" text-anchor="middle" fill="#222"  style="stroke-width:0.18px" letter-spacing="0.35">**</text>
<line x1="458.00" y1="162.60" x2="458.00" y2="165.80" stroke="#231f20" stroke-width="1.2"/>
<text transform="translate(462.80,171.70) scale(0.9,1.03) rotate(-45)" font-size="11" text-anchor="end" fill="#1a1a1a" style="stroke-width:0.2px">0.008</text>
<line x1="478.10" y1="98.50" x2="478.10" y2="105.80" stroke="#3a3a3c" stroke-width="1.35"/>
<line x1="474.82" y1="98.50" x2="481.38" y2="98.50" stroke="#3a3a3c" stroke-width="1.35"/>
<rect x="472.30" y="106.30" width="11.60" height="56.30" fill="#7b7d7f" stroke="#231f20" stroke-width="1.35"/>
<text x="478.30" y="99.18" font-size="13.5" text-anchor="middle" fill="#222"  style="stroke-width:0.18px" letter-spacing="0.35">**</text>
<line x1="478.10" y1="162.60" x2="478.10" y2="165.80" stroke="#231f20" stroke-width="1.2"/>
<text transform="translate(482.90,171.70) scale(0.9,1.03) rotate(-45)" font-size="11" text-anchor="end" fill="#1a1a1a" style="stroke-width:0.2px">0.04</text>
<line x1="498.20" y1="45.50" x2="498.20" y2="70.60" stroke="#3a3a3c" stroke-width="1.35"/>
<line x1="494.92" y1="45.50" x2="501.48" y2="45.50" stroke="#3a3a3c" stroke-width="1.35"/>
<rect x="492.40" y="71.10" width="11.60" height="91.50" fill="#5f6062" stroke="#231f20" stroke-width="1.35"/>
<text x="498.40" y="45.95" font-size="13.5" text-anchor="middle" fill="#222"  style="stroke-width:0.18px" letter-spacing="0.35">***</text>
<line x1="498.20" y1="162.60" x2="498.20" y2="165.80" stroke="#231f20" stroke-width="1.2"/>
<text transform="translate(503.00,171.70) scale(0.9,1.03) rotate(-45)" font-size="11" text-anchor="end" fill="#1a1a1a" style="stroke-width:0.2px">0.20</text>
<line x1="518.30" y1="28.90" x2="518.30" y2="58.50" stroke="#3a3a3c" stroke-width="1.35"/>
<line x1="515.02" y1="28.90" x2="521.58" y2="28.90" stroke="#3a3a3c" stroke-width="1.35"/>
<rect x="512.50" y="59.00" width="11.60" height="103.60" fill="#363a3a" stroke="#231f20" stroke-width="1.35"/>
<text x="518.50" y="30.13" font-size="13.5" text-anchor="middle" fill="#222"  style="stroke-width:0.18px" letter-spacing="0.35">***</text>
<line x1="518.30" y1="162.60" x2="518.30" y2="165.80" stroke="#231f20" stroke-width="1.2"/>
<text transform="translate(523.10,171.70) scale(0.9,1.03) rotate(-45)" font-size="11" text-anchor="end" fill="#1a1a1a" style="stroke-width:0.2px">1.0</text>
<text x="440.40" y="27.60" font-size="12.5" text-anchor="start" fill="#1f1f1f"  class="ti">GW4064</text>
<line x1="557.70" y1="19.50" x2="557.70" y2="163.30" stroke="#231f20" stroke-width="1.3"/>
<line x1="555.00" y1="20.10" x2="557.70" y2="20.10" stroke="#231f20" stroke-width="1.2"/>
<text x="553.70" y="24.90" font-size="9.2" text-anchor="end" fill="#262626"  class="tk">6</text>
<line x1="555.00" y1="67.80" x2="557.70" y2="67.80" stroke="#231f20" stroke-width="1.2"/>
<text x="553.70" y="72.60" font-size="9.2" text-anchor="end" fill="#262626"  class="tk">4</text>
<line x1="555.00" y1="115.60" x2="557.70" y2="115.60" stroke="#231f20" stroke-width="1.2"/>
<text x="553.70" y="120.40" font-size="9.2" text-anchor="end" fill="#262626"  class="tk">2</text>
<line x1="555.00" y1="162.70" x2="557.70" y2="162.70" stroke="#231f20" stroke-width="1.2"/>
<text x="553.70" y="167.50" font-size="9.2" text-anchor="end" fill="#262626"  class="tk">0</text>
<line x1="557.10" y1="162.70" x2="684.00" y2="162.70" stroke="#231f20" stroke-width="1.3"/>
<line x1="570.80" y1="134.40" x2="570.80" y2="139.40" stroke="#3a3a3c" stroke-width="1.35"/>
<line x1="567.52" y1="134.40" x2="574.08" y2="134.40" stroke="#3a3a3c" stroke-width="1.35"/>
<rect x="565.00" y="139.90" width="11.60" height="22.80" fill="#ffffff" stroke="#231f20" stroke-width="1.35"/>
<line x1="570.80" y1="162.70" x2="570.80" y2="165.90" stroke="#231f20" stroke-width="1.2"/>
<text transform="translate(575.60,172.80) scale(0.9,1.03) rotate(-45)" font-size="11" text-anchor="end" fill="#1a1a1a" style="stroke-width:0.2px">0</text>
<line x1="590.80" y1="109.30" x2="590.80" y2="119.30" stroke="#3a3a3c" stroke-width="1.35"/>
<line x1="587.52" y1="109.30" x2="594.08" y2="109.30" stroke="#3a3a3c" stroke-width="1.35"/>
<rect x="585.00" y="119.80" width="11.60" height="42.90" fill="#cfd1d0" stroke="#231f20" stroke-width="1.35"/>
<line x1="590.80" y1="162.70" x2="590.80" y2="165.90" stroke="#231f20" stroke-width="1.2"/>
<text transform="translate(595.60,172.80) scale(0.9,1.03) rotate(-45)" font-size="11" text-anchor="end" fill="#1a1a1a" style="stroke-width:0.2px">0.312</text>
<line x1="610.80" y1="113.60" x2="610.80" y2="116.30" stroke="#3a3a3c" stroke-width="1.35"/>
<line x1="607.52" y1="113.60" x2="614.08" y2="113.60" stroke="#3a3a3c" stroke-width="1.35"/>
<rect x="605.00" y="116.80" width="11.60" height="45.90" fill="#96999c" stroke="#231f20" stroke-width="1.35"/>
<line x1="610.80" y1="162.70" x2="610.80" y2="165.90" stroke="#231f20" stroke-width="1.2"/>
<text transform="translate(615.60,172.80) scale(0.9,1.03) rotate(-45)" font-size="11" text-anchor="end" fill="#1a1a1a" style="stroke-width:0.2px">0.625</text>
<line x1="630.80" y1="81.20" x2="630.80" y2="99.20" stroke="#3a3a3c" stroke-width="1.35"/>
<line x1="627.52" y1="81.20" x2="634.08" y2="81.20" stroke="#3a3a3c" stroke-width="1.35"/>
<rect x="625.00" y="99.70" width="11.60" height="63.00" fill="#7b7d7f" stroke="#231f20" stroke-width="1.35"/>
<text x="631.00" y="82.61" font-size="13.5" text-anchor="middle" fill="#222"  style="stroke-width:0.18px" letter-spacing="0.35">**</text>
<line x1="630.80" y1="162.70" x2="630.80" y2="165.90" stroke="#231f20" stroke-width="1.2"/>
<text transform="translate(635.60,172.80) scale(0.9,1.03) rotate(-45)" font-size="11" text-anchor="end" fill="#1a1a1a" style="stroke-width:0.2px">1.25</text>
<line x1="650.80" y1="45.50" x2="650.80" y2="72.10" stroke="#3a3a3c" stroke-width="1.35"/>
<line x1="647.52" y1="45.50" x2="654.08" y2="45.50" stroke="#3a3a3c" stroke-width="1.35"/>
<rect x="645.00" y="72.60" width="11.60" height="90.10" fill="#5f6062" stroke="#231f20" stroke-width="1.35"/>
<text x="651.00" y="47.20" font-size="13.5" text-anchor="middle" fill="#222"  style="stroke-width:0.18px" letter-spacing="0.35">***</text>
<line x1="650.80" y1="162.70" x2="650.80" y2="165.90" stroke="#231f20" stroke-width="1.2"/>
<text transform="translate(655.60,172.80) scale(0.9,1.03) rotate(-45)" font-size="11" text-anchor="end" fill="#1a1a1a" style="stroke-width:0.2px">2.5</text>
<line x1="670.80" y1="52.80" x2="670.80" y2="61.10" stroke="#3a3a3c" stroke-width="1.35"/>
<line x1="667.52" y1="52.80" x2="674.08" y2="52.80" stroke="#3a3a3c" stroke-width="1.35"/>
<rect x="665.00" y="61.60" width="11.60" height="101.10" fill="#363a3a" stroke="#231f20" stroke-width="1.35"/>
<text x="671.00" y="54.49" font-size="13.5" text-anchor="middle" fill="#222"  style="stroke-width:0.18px" letter-spacing="0.35">***</text>
<line x1="670.80" y1="162.70" x2="670.80" y2="165.90" stroke="#231f20" stroke-width="1.2"/>
<text transform="translate(675.60,172.80) scale(0.9,1.03) rotate(-45)" font-size="11" text-anchor="end" fill="#1a1a1a" style="stroke-width:0.2px">5</text>
<text x="585.30" y="28.10" font-size="12.8" text-anchor="start" fill="#1f1f1f"  class="ti">Nicardipine</text>
<line x1="404.70" y1="211.50" x2="404.70" y2="360.10" stroke="#231f20" stroke-width="1.3"/>
<line x1="402.00" y1="212.10" x2="404.70" y2="212.10" stroke="#231f20" stroke-width="1.2"/>
<text x="400.20" y="217.00" font-size="9.2" text-anchor="end" fill="#262626"  class="tk">4</text>
<line x1="402.00" y1="249.00" x2="404.70" y2="249.00" stroke="#231f20" stroke-width="1.2"/>
<text x="400.20" y="253.90" font-size="9.2" text-anchor="end" fill="#262626"  class="tk">3</text>
<line x1="402.00" y1="285.90" x2="404.70" y2="285.90" stroke="#231f20" stroke-width="1.2"/>
<text x="400.20" y="290.80" font-size="9.2" text-anchor="end" fill="#262626"  class="tk">2</text>
<line x1="402.00" y1="322.60" x2="404.70" y2="322.60" stroke="#231f20" stroke-width="1.2"/>
<text x="400.20" y="327.50" font-size="9.2" text-anchor="end" fill="#262626"  class="tk">1</text>
<line x1="402.00" y1="359.50" x2="404.70" y2="359.50" stroke="#231f20" stroke-width="1.2"/>
<text x="400.20" y="364.40" font-size="9.2" text-anchor="end" fill="#262626"  class="tk">0</text>
<line x1="404.10" y1="359.50" x2="533.50" y2="359.50" stroke="#231f20" stroke-width="1.3"/>
<line x1="420.65" y1="315.60" x2="420.65" y2="323.10" stroke="#3a3a3c" stroke-width="1.35"/>
<line x1="416.40" y1="315.60" x2="424.90" y2="315.60" stroke="#3a3a3c" stroke-width="1.35"/>
<rect x="413.30" y="323.60" width="14.70" height="35.90" fill="#ffffff" stroke="#231f20" stroke-width="1.35"/>
<line x1="420.65" y1="359.50" x2="420.65" y2="362.70" stroke="#231f20" stroke-width="1.2"/>
<text transform="translate(425.55,369.20) scale(0.9,1.03) rotate(-45)" font-size="11" text-anchor="end" fill="#1a1a1a" style="stroke-width:0.2px">0</text>
<line x1="445.15" y1="294.20" x2="445.15" y2="303.50" stroke="#3a3a3c" stroke-width="1.35"/>
<line x1="440.90" y1="294.20" x2="449.40" y2="294.20" stroke="#3a3a3c" stroke-width="1.35"/>
<rect x="437.80" y="304.00" width="14.70" height="55.50" fill="#cfd1d0" stroke="#231f20" stroke-width="1.35"/>
<line x1="445.15" y1="359.50" x2="445.15" y2="362.70" stroke="#231f20" stroke-width="1.2"/>
<text transform="translate(450.05,369.20) scale(0.9,1.03) rotate(-45)" font-size="11" text-anchor="end" fill="#1a1a1a" style="stroke-width:0.2px">0.625</text>
<line x1="469.65" y1="270.40" x2="469.65" y2="285.90" stroke="#3a3a3c" stroke-width="1.35"/>
<line x1="465.40" y1="270.40" x2="473.90" y2="270.40" stroke="#3a3a3c" stroke-width="1.35"/>
<rect x="462.30" y="286.40" width="14.70" height="73.10" fill="#96999c" stroke="#231f20" stroke-width="1.35"/>
<text x="469.85" y="270.31" font-size="13.5" text-anchor="middle" fill="#222"  style="stroke-width:0.18px" letter-spacing="0.35">**</text>
<line x1="469.65" y1="359.50" x2="469.65" y2="362.70" stroke="#231f20" stroke-width="1.2"/>
<text transform="translate(474.55,369.20) scale(0.9,1.03) rotate(-45)" font-size="11" text-anchor="end" fill="#1a1a1a" style="stroke-width:0.2px">1.25</text>
<line x1="494.15" y1="274.60" x2="494.15" y2="286.20" stroke="#3a3a3c" stroke-width="1.35"/>
<line x1="489.90" y1="274.60" x2="498.40" y2="274.60" stroke="#3a3a3c" stroke-width="1.35"/>
<rect x="486.80" y="286.70" width="14.70" height="72.80" fill="#7b7d7f" stroke="#231f20" stroke-width="1.35"/>
<text x="494.35" y="275.33" font-size="13.5" text-anchor="middle" fill="#222"  style="stroke-width:0.18px" letter-spacing="0.35">**</text>
<line x1="494.15" y1="359.50" x2="494.15" y2="362.70" stroke="#231f20" stroke-width="1.2"/>
<text transform="translate(499.05,369.20) scale(0.9,1.03) rotate(-45)" font-size="11" text-anchor="end" fill="#1a1a1a" style="stroke-width:0.2px">2.5</text>
<line x1="518.65" y1="244.50" x2="518.65" y2="259.50" stroke="#3a3a3c" stroke-width="1.35"/>
<line x1="514.40" y1="244.50" x2="522.90" y2="244.50" stroke="#3a3a3c" stroke-width="1.35"/>
<rect x="511.30" y="260.00" width="14.70" height="99.50" fill="#5f6062" stroke="#231f20" stroke-width="1.35"/>
<text x="518.85" y="245.95" font-size="13.5" text-anchor="middle" fill="#222"  style="stroke-width:0.18px" letter-spacing="0.35">***</text>
<line x1="518.65" y1="359.50" x2="518.65" y2="362.70" stroke="#231f20" stroke-width="1.2"/>
<text transform="translate(523.55,369.20) scale(0.9,1.03) rotate(-45)" font-size="11" text-anchor="end" fill="#1a1a1a" style="stroke-width:0.2px">5</text>
<text x="445.20" y="221.40" font-size="12.8" text-anchor="start" fill="#1f1f1f"  class="ti">Bepridil</text>
<line x1="555.20" y1="212.70" x2="555.20" y2="360.40" stroke="#231f20" stroke-width="1.3"/>
<line x1="552.50" y1="213.30" x2="555.20" y2="213.30" stroke="#231f20" stroke-width="1.2"/>
<text x="547.50" y="218.10" font-size="9.2" text-anchor="end" fill="#262626"  class="tk">10</text>
<line x1="552.50" y1="242.70" x2="555.20" y2="242.70" stroke="#231f20" stroke-width="1.2"/>
<text x="550.70" y="247.50" font-size="9.2" text-anchor="end" fill="#262626"  class="tk">8</text>
<line x1="552.50" y1="272.10" x2="555.20" y2="272.10" stroke="#231f20" stroke-width="1.2"/>
<text x="550.70" y="276.90" font-size="9.2" text-anchor="end" fill="#262626"  class="tk">6</text>
<line x1="552.50" y1="301.30" x2="555.20" y2="301.30" stroke="#231f20" stroke-width="1.2"/>
<text x="550.70" y="306.10" font-size="9.2" text-anchor="end" fill="#262626"  class="tk">4</text>
<line x1="552.50" y1="330.70" x2="555.20" y2="330.70" stroke="#231f20" stroke-width="1.2"/>
<text x="550.70" y="335.50" font-size="9.2" text-anchor="end" fill="#262626"  class="tk">2</text>
<line x1="552.50" y1="359.80" x2="555.20" y2="359.80" stroke="#231f20" stroke-width="1.2"/>
<text x="550.70" y="364.60" font-size="9.2" text-anchor="end" fill="#262626"  class="tk">0</text>
<line x1="554.60" y1="359.80" x2="684.00" y2="359.80" stroke="#231f20" stroke-width="1.3"/>
<line x1="568.95" y1="342.00" x2="568.95" y2="345.20" stroke="#3a3a3c" stroke-width="1.35"/>
<line x1="565.60" y1="342.00" x2="572.30" y2="342.00" stroke="#3a3a3c" stroke-width="1.35"/>
<rect x="563.00" y="345.70" width="11.90" height="14.10" fill="#ffffff" stroke="#231f20" stroke-width="1.35"/>
<line x1="568.95" y1="359.80" x2="568.95" y2="363.00" stroke="#231f20" stroke-width="1.2"/>
<text transform="translate(573.85,369.50) scale(0.9,1.03) rotate(-45)" font-size="11" text-anchor="end" fill="#1a1a1a" style="stroke-width:0.2px">0</text>
<line x1="589.35" y1="325.10" x2="589.35" y2="332.70" stroke="#3a3a3c" stroke-width="1.35"/>
<line x1="586.00" y1="325.10" x2="592.70" y2="325.10" stroke="#3a3a3c" stroke-width="1.35"/>
<rect x="583.40" y="333.20" width="11.90" height="26.60" fill="#cfd1d0" stroke="#231f20" stroke-width="1.35"/>
<line x1="589.35" y1="359.80" x2="589.35" y2="363.00" stroke="#231f20" stroke-width="1.2"/>
<text transform="translate(594.25,369.50) scale(0.9,1.03) rotate(-45)" font-size="11" text-anchor="end" fill="#1a1a1a" style="stroke-width:0.2px">0.625</text>
<line x1="609.75" y1="312.60" x2="609.75" y2="324.90" stroke="#3a3a3c" stroke-width="1.35"/>
<line x1="606.40" y1="312.60" x2="613.10" y2="312.60" stroke="#3a3a3c" stroke-width="1.35"/>
<rect x="603.80" y="325.40" width="11.90" height="34.40" fill="#96999c" stroke="#231f20" stroke-width="1.35"/>
<line x1="609.75" y1="359.80" x2="609.75" y2="363.00" stroke="#231f20" stroke-width="1.2"/>
<text transform="translate(614.65,369.50) scale(0.9,1.03) rotate(-45)" font-size="11" text-anchor="end" fill="#1a1a1a" style="stroke-width:0.2px">1.25</text>
<line x1="630.15" y1="279.40" x2="630.15" y2="301.30" stroke="#3a3a3c" stroke-width="1.35"/>
<line x1="626.80" y1="279.40" x2="633.50" y2="279.40" stroke="#3a3a3c" stroke-width="1.35"/>
<rect x="624.20" y="301.80" width="11.90" height="58.00" fill="#7b7d7f" stroke="#231f20" stroke-width="1.35"/>
<text x="630.35" y="280.35" font-size="13.5" text-anchor="middle" fill="#222"  style="stroke-width:0.18px" letter-spacing="0.35">**</text>
<line x1="630.15" y1="359.80" x2="630.15" y2="363.00" stroke="#231f20" stroke-width="1.2"/>
<text transform="translate(635.05,369.50) scale(0.9,1.03) rotate(-45)" font-size="11" text-anchor="end" fill="#1a1a1a" style="stroke-width:0.2px">2.5</text>
<line x1="650.55" y1="276.60" x2="650.55" y2="288.70" stroke="#3a3a3c" stroke-width="1.35"/>
<line x1="647.20" y1="276.60" x2="653.90" y2="276.60" stroke="#3a3a3c" stroke-width="1.35"/>
<rect x="644.60" y="289.20" width="11.90" height="70.60" fill="#5f6062" stroke="#231f20" stroke-width="1.35"/>
<text x="650.75" y="276.83" font-size="13.5" text-anchor="middle" fill="#222"  style="stroke-width:0.18px" letter-spacing="0.35">***</text>
<line x1="650.55" y1="359.80" x2="650.55" y2="363.00" stroke="#231f20" stroke-width="1.2"/>
<text transform="translate(655.45,369.50) scale(0.9,1.03) rotate(-45)" font-size="11" text-anchor="end" fill="#1a1a1a" style="stroke-width:0.2px">5</text>
<line x1="670.95" y1="238.90" x2="670.95" y2="264.10" stroke="#3a3a3c" stroke-width="1.35"/>
<line x1="667.60" y1="238.90" x2="674.30" y2="238.90" stroke="#3a3a3c" stroke-width="1.35"/>
<rect x="665.00" y="264.60" width="11.90" height="95.20" fill="#363a3a" stroke="#231f20" stroke-width="1.35"/>
<text x="671.15" y="240.17" font-size="13.5" text-anchor="middle" fill="#222"  style="stroke-width:0.18px" letter-spacing="0.35">***</text>
<line x1="670.95" y1="359.80" x2="670.95" y2="363.00" stroke="#231f20" stroke-width="1.2"/>
<text transform="translate(675.85,369.50) scale(0.9,1.03) rotate(-45)" font-size="11" text-anchor="end" fill="#1a1a1a" style="stroke-width:0.2px">10</text>
<text x="585.80" y="222.10" font-size="12.9" text-anchor="start" fill="#1f1f1f"  class="ti">Gliquidone</text>
<line x1="404.70" y1="414.50" x2="404.70" y2="560.90" stroke="#231f20" stroke-width="1.3"/>
<line x1="402.00" y1="415.10" x2="404.70" y2="415.10" stroke="#231f20" stroke-width="1.2"/>
<text x="400.20" y="419.00" font-size="9.2" text-anchor="end" fill="#262626"  class="tk">5</text>
<line x1="402.00" y1="444.00" x2="404.70" y2="444.00" stroke="#231f20" stroke-width="1.2"/>
<text x="400.20" y="447.90" font-size="9.2" text-anchor="end" fill="#262626"  class="tk">4</text>
<line x1="402.00" y1="473.40" x2="404.70" y2="473.40" stroke="#231f20" stroke-width="1.2"/>
<text x="400.20" y="477.30" font-size="9.2" text-anchor="end" fill="#262626"  class="tk">3</text>
<line x1="402.00" y1="502.30" x2="404.70" y2="502.30" stroke="#231f20" stroke-width="1.2"/>
<text x="400.20" y="506.20" font-size="9.2" text-anchor="end" fill="#262626"  class="tk">2</text>
<line x1="402.00" y1="531.40" x2="404.70" y2="531.40" stroke="#231f20" stroke-width="1.2"/>
<text x="400.20" y="535.30" font-size="9.2" text-anchor="end" fill="#262626"  class="tk">1</text>
<line x1="402.00" y1="560.30" x2="404.70" y2="560.30" stroke="#231f20" stroke-width="1.2"/>
<text x="400.20" y="564.20" font-size="9.2" text-anchor="end" fill="#262626"  class="tk">0</text>
<line x1="404.10" y1="560.30" x2="533.50" y2="560.30" stroke="#231f20" stroke-width="1.3"/>
<line x1="418.00" y1="525.60" x2="418.00" y2="531.40" stroke="#3a3a3c" stroke-width="1.35"/>
<line x1="414.62" y1="525.60" x2="421.38" y2="525.60" stroke="#3a3a3c" stroke-width="1.35"/>
<rect x="412.00" y="531.90" width="12.00" height="28.40" fill="#ffffff" stroke="#231f20" stroke-width="1.35"/>
<line x1="418.00" y1="560.30" x2="418.00" y2="563.50" stroke="#231f20" stroke-width="1.2"/>
<text transform="translate(422.90,570.00) scale(0.9,1.03) rotate(-45)" font-size="11" text-anchor="end" fill="#1a1a1a" style="stroke-width:0.2px">0</text>
<line x1="438.36" y1="506.00" x2="438.36" y2="518.10" stroke="#3a3a3c" stroke-width="1.35"/>
<line x1="434.98" y1="506.00" x2="441.74" y2="506.00" stroke="#3a3a3c" stroke-width="1.35"/>
<rect x="432.36" y="518.60" width="12.00" height="41.70" fill="#cfd1d0" stroke="#231f20" stroke-width="1.35"/>
<line x1="438.36" y1="560.30" x2="438.36" y2="563.50" stroke="#231f20" stroke-width="1.2"/>
<text transform="translate(443.26,570.00) scale(0.9,1.03) rotate(-45)" font-size="11" text-anchor="end" fill="#1a1a1a" style="stroke-width:0.2px">0.03</text>
<line x1="458.72" y1="482.40" x2="458.72" y2="498.00" stroke="#3a3a3c" stroke-width="1.35"/>
<line x1="455.34" y1="482.40" x2="462.10" y2="482.40" stroke="#3a3a3c" stroke-width="1.35"/>
<rect x="452.72" y="498.50" width="12.00" height="61.80" fill="#96999c" stroke="#231f20" stroke-width="1.35"/>
<text x="458.92" y="479.35" font-size="13.5" text-anchor="middle" fill="#222"  style="stroke-width:0.18px" letter-spacing="0.35">*</text>
<line x1="458.72" y1="560.30" x2="458.72" y2="563.50" stroke="#231f20" stroke-width="1.2"/>
<text transform="translate(463.62,570.00) scale(0.9,1.03) rotate(-45)" font-size="11" text-anchor="end" fill="#1a1a1a" style="stroke-width:0.2px">0.09</text>
<line x1="479.08" y1="460.30" x2="479.08" y2="479.10" stroke="#3a3a3c" stroke-width="1.35"/>
<line x1="475.70" y1="460.30" x2="482.46" y2="460.30" stroke="#3a3a3c" stroke-width="1.35"/>
<rect x="473.08" y="479.60" width="12.00" height="80.70" fill="#7b7d7f" stroke="#231f20" stroke-width="1.35"/>
<text x="479.28" y="461.77" font-size="13.5" text-anchor="middle" fill="#222"  style="stroke-width:0.18px" letter-spacing="0.35">***</text>
<line x1="479.08" y1="560.30" x2="479.08" y2="563.50" stroke="#231f20" stroke-width="1.2"/>
<text transform="translate(483.98,570.00) scale(0.9,1.03) rotate(-45)" font-size="11" text-anchor="end" fill="#1a1a1a" style="stroke-width:0.2px">0.28</text>
<line x1="499.44" y1="446.50" x2="499.44" y2="461.10" stroke="#3a3a3c" stroke-width="1.35"/>
<line x1="496.06" y1="446.50" x2="502.82" y2="446.50" stroke="#3a3a3c" stroke-width="1.35"/>
<rect x="493.44" y="461.60" width="12.00" height="98.70" fill="#5f6062" stroke="#231f20" stroke-width="1.35"/>
<text x="499.64" y="448.71" font-size="13.5" text-anchor="middle" fill="#222"  style="stroke-width:0.18px" letter-spacing="0.35">***</text>
<line x1="499.44" y1="560.30" x2="499.44" y2="563.50" stroke="#231f20" stroke-width="1.2"/>
<text transform="translate(504.34,570.00) scale(0.9,1.03) rotate(-45)" font-size="11" text-anchor="end" fill="#1a1a1a" style="stroke-width:0.2px">0.83</text>
<line x1="519.80" y1="437.70" x2="519.80" y2="452.00" stroke="#3a3a3c" stroke-width="1.35"/>
<line x1="516.42" y1="437.70" x2="523.18" y2="437.70" stroke="#3a3a3c" stroke-width="1.35"/>
<rect x="513.80" y="452.50" width="12.00" height="107.80" fill="#363a3a" stroke="#231f20" stroke-width="1.35"/>
<text x="520.00" y="438.67" font-size="13.5" text-anchor="middle" fill="#222"  style="stroke-width:0.18px" letter-spacing="0.35">***</text>
<line x1="519.80" y1="560.30" x2="519.80" y2="563.50" stroke="#231f20" stroke-width="1.2"/>
<text transform="translate(524.70,570.00) scale(0.9,1.03) rotate(-45)" font-size="11" text-anchor="end" fill="#1a1a1a" style="stroke-width:0.2px">2.50</text>
<text x="428.30" y="425.80" font-size="12.7" text-anchor="start" fill="#1f1f1f"  class="ti">Avermectin B1a</text>
<line x1="404.70" y1="608.70" x2="404.70" y2="755.20" stroke="#231f20" stroke-width="1.3"/>
<line x1="402.00" y1="609.30" x2="404.70" y2="609.30" stroke="#231f20" stroke-width="1.2"/>
<text x="400.20" y="613.10" font-size="9.2" text-anchor="end" fill="#262626"  class="tk">15</text>
<line x1="402.00" y1="657.80" x2="404.70" y2="657.80" stroke="#231f20" stroke-width="1.2"/>
<text x="400.20" y="661.60" font-size="9.2" text-anchor="end" fill="#262626"  class="tk">10</text>
<line x1="402.00" y1="706.10" x2="404.70" y2="706.10" stroke="#231f20" stroke-width="1.2"/>
<text x="400.20" y="709.90" font-size="9.2" text-anchor="end" fill="#262626"  class="tk">5</text>
<line x1="402.00" y1="754.60" x2="404.70" y2="754.60" stroke="#231f20" stroke-width="1.2"/>
<text x="400.20" y="758.40" font-size="9.2" text-anchor="end" fill="#262626"  class="tk">0</text>
<line x1="404.10" y1="754.60" x2="533.50" y2="754.60" stroke="#231f20" stroke-width="1.3"/>
<line x1="415.95" y1="625.70" x2="415.95" y2="645.30" stroke="#3a3a3c" stroke-width="1.35"/>
<line x1="412.91" y1="625.70" x2="418.99" y2="625.70" stroke="#3a3a3c" stroke-width="1.35"/>
<rect x="410.60" y="645.80" width="10.70" height="108.80" fill="#ffffff" stroke="#231f20" stroke-width="1.35"/>
<rect x="411.10" y="646.30" width="9.70" height="107.80" fill="url(#hs)"/>
<line x1="415.95" y1="754.60" x2="415.95" y2="757.80" stroke="#231f20" stroke-width="1.2"/>
<text transform="translate(420.85,764.30) scale(0.9,1.03) rotate(-45)" font-size="11" text-anchor="end" fill="#1a1a1a" style="stroke-width:0.2px">0</text>
<line x1="433.33" y1="709.60" x2="433.33" y2="713.10" stroke="#3a3a3c" stroke-width="1.35"/>
<line x1="430.29" y1="709.60" x2="436.37" y2="709.60" stroke="#3a3a3c" stroke-width="1.35"/>
<rect x="427.98" y="713.60" width="10.70" height="41.00" fill="#cfd1d0" stroke="#231f20" stroke-width="1.35"/>
<rect x="428.48" y="714.10" width="9.70" height="40.00" fill="url(#hs)"/>
<text x="433.53" y="711.51" font-size="12.5" text-anchor="middle" fill="#222"  style="stroke-width:0.18px" letter-spacing="0.35">***</text>
<line x1="433.33" y1="754.60" x2="433.33" y2="757.80" stroke="#231f20" stroke-width="1.2"/>
<text transform="translate(438.23,764.30) scale(0.9,1.03) rotate(-45)" font-size="11" text-anchor="end" fill="#1a1a1a" style="stroke-width:0.2px">0.625</text>
<line x1="450.71" y1="706.30" x2="450.71" y2="717.40" stroke="#3a3a3c" stroke-width="1.35"/>
<line x1="447.67" y1="706.30" x2="453.75" y2="706.30" stroke="#3a3a3c" stroke-width="1.35"/>
<rect x="445.36" y="717.90" width="10.70" height="36.70" fill="#96999c" stroke="#231f20" stroke-width="1.35"/>
<rect x="445.86" y="718.40" width="9.70" height="35.70" fill="url(#hs)"/>
<text x="450.91" y="708.50" font-size="12.5" text-anchor="middle" fill="#222"  style="stroke-width:0.18px" letter-spacing="0.35">***</text>
<line x1="450.71" y1="754.60" x2="450.71" y2="757.80" stroke="#231f20" stroke-width="1.2"/>
<text transform="translate(455.61,764.30) scale(0.9,1.03) rotate(-45)" font-size="11" text-anchor="end" fill="#1a1a1a" style="stroke-width:0.2px">1.25</text>
<line x1="468.09" y1="720.70" x2="468.09" y2="728.20" stroke="#3a3a3c" stroke-width="1.35"/>
<line x1="465.05" y1="720.70" x2="471.13" y2="720.70" stroke="#3a3a3c" stroke-width="1.35"/>
<rect x="462.74" y="728.70" width="10.70" height="25.90" fill="#7b7d7f" stroke="#231f20" stroke-width="1.35"/>
<rect x="463.24" y="729.20" width="9.70" height="24.90" fill="url(#hs)"/>
<text x="468.29" y="721.56" font-size="12.5" text-anchor="middle" fill="#222"  style="stroke-width:0.18px" letter-spacing="0.35">***</text>
<line x1="468.09" y1="754.60" x2="468.09" y2="757.80" stroke="#231f20" stroke-width="1.2"/>
<text transform="translate(472.99,764.30) scale(0.9,1.03) rotate(-45)" font-size="11" text-anchor="end" fill="#1a1a1a" style="stroke-width:0.2px">2.5</text>
<line x1="485.47" y1="733.70" x2="485.47" y2="735.20" stroke="#3a3a3c" stroke-width="1.35"/>
<line x1="482.43" y1="733.70" x2="488.51" y2="733.70" stroke="#3a3a3c" stroke-width="1.35"/>
<rect x="480.12" y="735.70" width="10.70" height="18.90" fill="#5f6062" stroke="#231f20" stroke-width="1.35"/>
<rect x="480.62" y="736.20" width="9.70" height="17.90" fill="url(#hs)"/>
<text x="485.67" y="734.86" font-size="12.5" text-anchor="middle" fill="#222"  style="stroke-width:0.18px" letter-spacing="0.35">***</text>
<line x1="485.47" y1="754.60" x2="485.47" y2="757.80" stroke="#231f20" stroke-width="1.2"/>
<text transform="translate(490.37,764.30) scale(0.9,1.03) rotate(-45)" font-size="11" text-anchor="end" fill="#1a1a1a" style="stroke-width:0.2px">5</text>
<line x1="502.85" y1="732.50" x2="502.85" y2="736.50" stroke="#3a3a3c" stroke-width="1.35"/>
<line x1="499.81" y1="732.50" x2="505.89" y2="732.50" stroke="#3a3a3c" stroke-width="1.35"/>
<rect x="497.50" y="737.00" width="10.70" height="17.60" fill="#363a3a" stroke="#231f20" stroke-width="1.35"/>
<rect x="498.00" y="737.50" width="9.70" height="16.60" fill="url(#hs)"/>
<text x="503.05" y="733.61" font-size="12.5" text-anchor="middle" fill="#222"  style="stroke-width:0.18px" letter-spacing="0.35">***</text>
<line x1="502.85" y1="754.60" x2="502.85" y2="757.80" stroke="#231f20" stroke-width="1.2"/>
<text transform="translate(507.75,764.30) scale(0.9,1.03) rotate(-45)" font-size="11" text-anchor="end" fill="#1a1a1a" style="stroke-width:0.2px">10</text>
<line x1="520.23" y1="742.50" x2="520.23" y2="745.00" stroke="#3a3a3c" stroke-width="1.35"/>
<line x1="517.19" y1="742.50" x2="523.27" y2="742.50" stroke="#3a3a3c" stroke-width="1.35"/>
<rect x="514.88" y="745.50" width="10.70" height="9.10" fill="#fff" stroke="#231f20" stroke-width="1.35"/>
<line x1="520.23" y1="754.60" x2="520.23" y2="757.80" stroke="#231f20" stroke-width="1.2"/>
<text transform="translate(525.13,764.30) scale(0.9,1.03) rotate(-45)" font-size="11" text-anchor="end" fill="#1a1a1a" style="stroke-width:0.2px">DMSO</text>
<text x="470.20" y="618.50" font-size="12.7" text-anchor="middle" fill="#1f1f1f"  class="ti">Triclosan +</text>
<text x="470.20" y="633.90" font-size="12.7" text-anchor="middle" fill="#1f1f1f"  class="ti">50µM CDCA</text>
</svg>
</body></html>
